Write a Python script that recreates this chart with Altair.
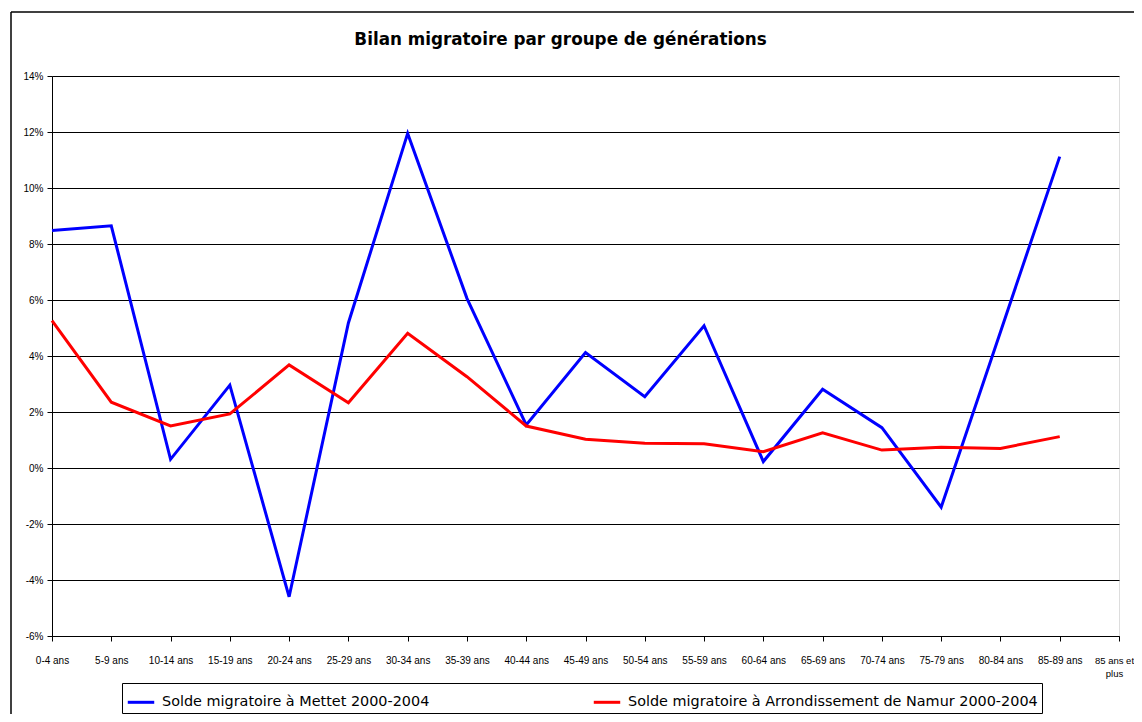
import altair as alt
import pandas as pd

categories = ["0-4 ans", "5-9 ans", "10-14 ans", "15-19 ans", "20-24 ans", "25-29 ans",
              "30-34 ans", "35-39 ans", "40-44 ans", "45-49 ans", "50-54 ans", "55-59 ans",
              "60-64 ans", "65-69 ans", "70-74 ans", "75-79 ans", "80-84 ans", "85-89 ans",
              "85 ans et plus"]
mettet = [8.48, 8.65, 0.31, 2.96, -4.6, 5.18, 11.95, 6.06, 1.54, 4.12, 2.55, 5.08,
          0.23, 2.81, 1.44, -1.40, 4.86, 11.12]
namur = [5.26, 2.35, 1.50, 1.93, 3.68, 2.33, 4.81, 3.26, 1.50, 1.03, 0.88, 0.87,
         0.58, 1.26, 0.64, 0.74, 0.70, 1.12]
series_names = ["Solde migratoire à Mettet 2000-2004",
                "Solde migratoire à Arrondissement de Namur 2000-2004"]
series_colors = ["#0000FF", "#FF0000"]
y_ticks = [-6, -4, -2, 0, 2, 4, 6, 8, 10, 12, 14]

rows = []
for name, vals in zip(series_names, [mettet, namur]):
    for c, v in zip(categories, vals):
        rows.append({"cat": c, "val": v, "serie": name})
df = pd.DataFrame(rows)

W, H = 1067, 560
last = "datum.value == '85 ans et plus'"

lines = alt.Chart(df).mark_line(strokeWidth=3).encode(
    x=alt.X("cat:O",
            scale=alt.Scale(type="point", domain=categories, padding=0),
            axis=alt.Axis(title=None, labelAngle=0, grid=False, domainColor="black",
                          tickColor="black", tickSize=5, labelPadding=19,
                          labelFont="Liberation Sans",
                          labelFontSize={"condition": {"test": last, "value": 9.5}, "value": 10},
                          labelOffset={"condition": {"test": last, "value": -5}, "value": 0},
                          labelColor="black", labelBaseline="middle", labelLineHeight=13,
                          labelExpr="datum.value == '85 ans et plus' ? ['85 ans et', 'plus'] : datum.value")),
    y=alt.Y("val:Q",
            scale=alt.Scale(domain=[-6, 14], nice=False, zero=False),
            axis=alt.Axis(title=None, values=y_ticks, grid=True, gridColor="black",
                          gridOpacity=1, gridWidth=1.2, domainColor="black",
                          tickColor="black", tickSize=5, labelPadding=4,
                          labelFont="Liberation Sans", labelFontSize=10,
                          labelColor="black",
                          labelExpr="datum.value + '%'")),
    color=alt.Color("serie:N",
                    scale=alt.Scale(domain=series_names, range=series_colors),
                    legend=alt.Legend(title=None, orient="none", legendX=70, legendY=607,
                                      direction="horizontal", strokeColor="black",
                                      padding=4, symbolType="stroke", symbolSize=700,
                                      symbolStrokeWidth=3, labelFont="DejaVu Sans",
                                      labelFontSize=14.4, labelColor="black",
                                      labelOffset=6, columnPadding=157,
                                      labelLimit=600)),
)

frame_df = pd.DataFrame({"a": [0]})
left_line = alt.Chart(frame_df).mark_rule(color="black", strokeWidth=1.5).encode(
    x=alt.value(-41), y=alt.value(-64), y2=alt.value(H + 90))
top_line = alt.Chart(frame_df).mark_rule(color="black", strokeWidth=1.5).encode(
    x=alt.value(-41), x2=alt.value(W + 40), y=alt.value(-64))

chart = alt.layer(left_line, top_line, lines).properties(
    width=W, height=H,
    title=alt.TitleParams("Bilan migratoire par groupe de générations",
                          font="DejaVu Sans", fontSize=16.8, fontWeight="bold",
                          color="black", offset=0, dy=51, dx=-25, baseline="alphabetic"),
    autosize=alt.AutoSizeParams(type="none"),
    padding={"left": 44, "top": 68, "right": 15, "bottom": 78},
).configure_view(stroke="black", strokeWidth=1).configure(background="white")

chart.save("out.html", embed_options={"renderer": "svg", "actions": False})
